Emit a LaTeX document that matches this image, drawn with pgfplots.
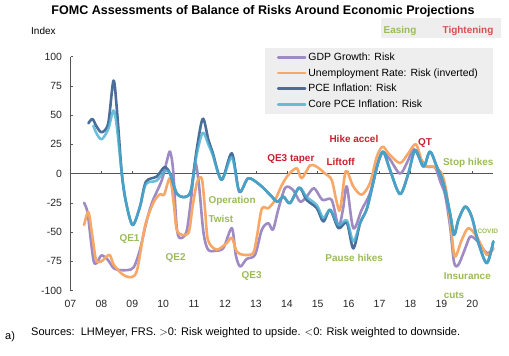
\documentclass[border=0pt]{standalone}
\usepackage{pgfplots}
\pgfplotsset{compat=1.18}
\usepackage{fontspec}
\setmainfont{Liberation Sans}
\definecolor{gdp}{HTML}{9E8BC4}
\definecolor{unemp}{HTML}{F7A868}
\definecolor{pce}{HTML}{4A6D9A}
\definecolor{core}{HTML}{48AED2}
\definecolor{ease}{HTML}{9BBB59}
\definecolor{tight}{HTML}{C8202D}
\definecolor{tightlt}{HTML}{D65050}
\definecolor{boxgray}{HTML}{EEEEEE}
\definecolor{axgray}{HTML}{555555}
\begin{document}
\begin{tikzpicture}
\begin{scope}[x=1bp,y=1bp]
\path[use as bounding box] (0,0) rectangle (509,355);
\node[anchor=center] at (263,344) {\resizebox{423bp}{!}{\bfseries FOMC Assessments of Balance of Risks Around Economic Projections}};
\node[anchor=west, inner sep=0pt, font=\fontsize{10}{12}\selectfont] at (31,324) {Index};
\fill[boxgray] (381,317) rectangle (501,337);
\node[anchor=center, inner sep=0pt, text=ease, font=\bfseries\fontsize{10}{12}\selectfont] at (400,324.3) {Easing};
\node[anchor=center, inner sep=0pt, text=tightlt, font=\bfseries\fontsize{10}{12}\selectfont] at (468,324.3) {Tightening};
\fill[boxgray] (265,241) rectangle (493,307);
\node[anchor=west, inner sep=0pt] at (31,22) {\resizebox{429bp}{!}{Sources:\ \ LHMeyer, FRS. \ensuremath{>}0: Risk weighted to upside. \ensuremath{<}0: Risk weighted to downside.}};
\node[anchor=west, inner sep=0pt, font=\fontsize{11}{13}\selectfont] at (5,18) {a)};
\end{scope}
\begin{axis}[
  at={(70.5bp,64.5bp)}, anchor=south west,
  scale only axis, width=422.5bp, height=233.8bp,
  xmin=2007, xmax=2020.67, ymin=-100, ymax=100,
  axis y line=left, axis x line=middle,
  hide obscured x ticks=false, hide obscured y ticks=false,
  axis line style={-, axgray, line width=0.8bp},
  xtick={2007,...,2020},
  xticklabels={07,08,09,10,11,12,13,14,15,16,17,18,19,20},
  ytick={-100,-75,...,100},
  xtick align=inside, ytick align=inside,
  major tick length=3bp,
  tick style={axgray, line width=0.6bp},
  /pgf/number format/assume math mode=true,
  ticklabel style={font=\fontsize{10.5}{12}\selectfont, text=black!85},
  xticklabel style={anchor=north, yshift=-123bp},
  yticklabel style={anchor=east, xshift=-5bp},
  clip=false,
  legend style={at={(0.488,1.026)}, anchor=north west, fill=none, draw=none,
    inner sep=0pt, font=\fontsize{10.5}{12.6}\selectfont, row sep=2.6bp,
    /tikz/every even column/.append style={column sep=0pt}},
  legend cell align=left,
  legend image code/.code={\draw[#1, line width=2.5bp] (0bp,0bp) -- (27bp,0bp);},
  every axis plot/.append style={line width=2.6bp, smooth, line join=round, line cap=round},
]
\addplot[gdp] coordinates {
(2007.44,-25) (2007.55,-33) (2007.65,-55) (2007.75,-75) (2007.85,-76.5) (2008.0,-70)
(2008.2,-73.5) (2008.4,-81) (2008.6,-82.5) (2008.85,-82.5) (2009.05,-80) (2009.25,-65)
(2009.45,-42) (2009.65,-24) (2009.95,-6) (2010.12,11) (2010.22,18.8) (2010.32,3)
(2010.43,-44) (2010.53,-55) (2010.75,-50) (2010.9,-22) (2011.03,9) (2011.15,-8)
(2011.3,-50) (2011.45,-65) (2011.7,-66) (2011.95,-63.5) (2012.22,-46.7) (2012.35,-70)
(2012.49,-79.5) (2012.7,-73) (2012.97,-69.5) (2013.19,-48) (2013.4,-42.4) (2013.55,-48)
(2013.72,-31) (2013.95,-12) (2014.2,-14) (2014.43,-24) (2014.64,-19.7) (2014.88,-12.5)
(2015.15,-22.5) (2015.45,-22.5) (2015.67,-45) (2015.82,-30) (2015.94,-11) (2016.15,-46.7)
(2016.42,-31) (2016.69,-16.8) (2016.91,6) (2017.1,18) (2017.34,12) (2017.66,0)
(2017.9,10) (2018.1,21) (2018.31,13) (2018.53,6) (2018.8,5) (2018.98,-8)
(2019.12,-18) (2019.28,-45) (2019.41,-76) (2019.55,-78) (2019.77,-64) (2019.93,-54)
(2020.14,-57) (2020.47,-68) (2020.68,-64)};
\addlegendentry{GDP Growth: Risk}
\addplot[unemp] coordinates {
(2007.44,-44) (2007.58,-33) (2007.71,-54) (2007.83,-74) (2008.0,-75) (2008.26,-69.5)
(2008.4,-78) (2008.7,-86.5) (2008.98,-88.5) (2009.16,-82) (2009.41,-45) (2009.68,-25)
(2009.9,-17.5) (2010.03,-18) (2010.22,-4) (2010.35,-28) (2010.46,-49.6) (2010.81,-51)
(2010.95,-28) (2011.1,-7) (2011.25,-4.5) (2011.35,-30) (2011.45,-57) (2011.73,-65)
(2012.05,-59.5) (2012.22,-55) (2012.38,-66.7) (2012.6,-69.5) (2012.91,-68) (2013.03,-54)
(2013.19,-30) (2013.4,-29.6) (2013.62,-22.5) (2013.84,-9.7) (2014.05,-1) (2014.32,4.6)
(2014.48,-4) (2014.75,7) (2014.96,6) (2015.24,0) (2015.45,-5.4) (2015.61,-24)
(2015.72,-31) (2015.87,-2) (2015.95,2) (2016.15,-11) (2016.42,-18) (2016.69,-8)
(2016.91,14.5) (2017.1,23) (2017.3,17) (2017.66,9) (2017.93,17.4) (2018.18,25)
(2018.42,7.4) (2018.74,6) (2019.01,0) (2019.17,-17) (2019.33,-51) (2019.44,-71)
(2019.66,-56.7) (2019.87,-46.7) (2020.14,-53.8) (2020.47,-69.5) (2020.68,-63.8)};
\addlegendentry{Unemployment Rate: Risk (inverted)}
\addplot[pce] coordinates {
(2007.58,43) (2007.71,46.7) (2007.85,40) (2008.01,35.4) (2008.22,43) (2008.39,79.5)
(2008.5,55) (2008.66,0) (2008.8,-25) (2009.01,-44) (2009.25,-28) (2009.44,-7)
(2009.79,-2.5) (2010.04,5.5) (2010.22,0) (2010.44,-17) (2010.71,-20) (2010.9,-14)
(2011.08,20) (2011.28,47) (2011.46,29) (2011.6,18) (2011.89,-5.4) (2012.22,17.4)
(2012.46,-15.4) (2012.75,-4) (2013.13,-9.7) (2013.46,-18.2) (2013.69,-24) (2013.89,-19.7)
(2014.1,-25.3) (2014.4,-12) (2014.64,-22.5) (2014.97,-29.6) (2015.18,-41) (2015.4,-31)
(2015.67,-46.7) (2015.94,-42) (2016.15,-64) (2016.37,-42.4) (2016.59,-30) (2016.8,-7)
(2016.96,10) (2017.12,18.8) (2017.34,3) (2017.66,-17.5) (2017.93,0) (2018.15,20)
(2018.42,6) (2018.63,18.8) (2018.85,6) (2019.06,-8) (2019.28,-34) (2019.41,-52.4)
(2019.55,-39.6) (2019.77,-28.2) (2019.98,-36.8) (2020.2,-59.5) (2020.47,-76.6) (2020.68,-58)};
\addlegendentry{PCE Inflation: Risk}
\addplot[core, opacity=0.8] coordinates {
(2007.74,41) (2007.85,34) (2008.01,29.4) (2008.22,38) (2008.39,54) (2008.5,40)
(2008.66,0) (2008.8,-25) (2009.01,-44) (2009.25,-28) (2009.44,-9) (2009.79,-6)
(2010.04,2) (2010.22,0) (2010.44,-17) (2010.71,-20) (2010.9,-14) (2011.08,16)
(2011.28,35) (2011.46,25) (2011.6,16) (2011.89,-5.4) (2012.22,14) (2012.46,-15.4)
(2012.75,-4) (2013.13,-9.7) (2013.46,-18.2) (2013.69,-24) (2013.89,-19.7) (2014.1,-25.3)
(2014.4,-12) (2014.64,-20) (2014.97,-27) (2015.18,-38) (2015.4,-31) (2015.67,-44)
(2015.94,-40) (2016.15,-58) (2016.37,-42.4) (2016.59,-30) (2016.8,-7) (2016.96,10)
(2017.12,18.8) (2017.34,3) (2017.66,-17.5) (2017.93,0) (2018.15,20) (2018.42,6)
(2018.63,18.8) (2018.85,6) (2019.06,-8) (2019.28,-34) (2019.41,-52.4) (2019.55,-39.6)
(2019.77,-28.2) (2019.98,-36.8) (2020.2,-59.5) (2020.47,-76.6) (2020.68,-58)};
\addlegendentry{Core PCE Inflation: Risk}
\begin{scope}[every node/.style={font=\bfseries\fontsize{10}{12}\selectfont, inner sep=0pt}]
\node[text=ease] at (axis cs:2008.91,-55.8) {QE1};
\node[text=ease] at (axis cs:2010.40,-71.8) {QE2};
\node[text=ease, anchor=west] at (axis cs:2011.46,-23) {Operation};
\node[text=ease, anchor=west] at (axis cs:2011.46,-39) {Twist};
\node[text=ease] at (axis cs:2012.86,-87.4) {QE3};
\node[text=tight] at (axis cs:2014.13,12.6) {QE3 taper};
\node[text=tight] at (axis cs:2015.74,9.7) {Liftoff};
\node[text=tight] at (axis cs:2016.17,29.4) {Hike accel};
\node[text=tight] at (axis cs:2018.47,26) {QT};
\node[text=ease] at (axis cs:2019.87,9.4) {Stop hikes};
\node[text=ease] at (axis cs:2016.18,-71.8) {Pause hikes};
\node[text=ease, anchor=west] at (axis cs:2019.07,-88) {Insurance};
\node[text=ease, anchor=west] at (axis cs:2019.07,-103.7) {cuts};
\node[text=ease, font=\bfseries\fontsize{6.5}{8}\selectfont] at (axis cs:2020.5,-49) {COVID};
\end{scope}
\end{axis}
\end{tikzpicture}
\end{document}
